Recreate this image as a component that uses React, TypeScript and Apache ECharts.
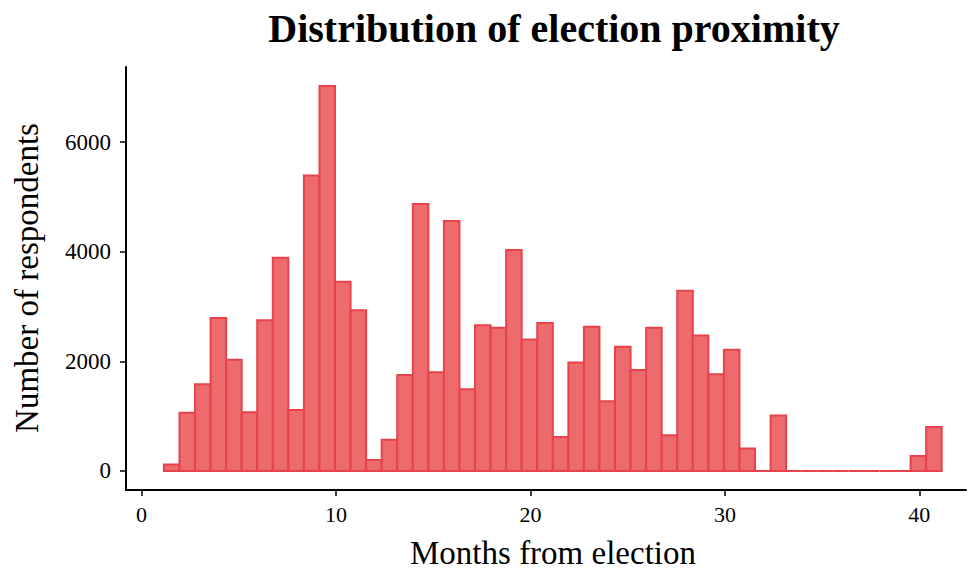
import React, { useEffect, useRef } from "react";
import * as echarts from "echarts";

const binStart = 1.15;
const binWidth = 0.8;
const counts = [
  120, 1060, 1580, 2790, 2030, 1070, 2750, 3890, 1110, 5390,
  7020, 3450, 2930, 200, 570, 1750, 4870, 1800, 4560, 1490,
  2660, 2610, 4030, 2400, 2700, 620, 1980, 2630, 1270, 2265,
  1840, 2610, 650, 3285, 2470, 1765, 2210, 410, 0, 1010,
  0, 0, 0, 0, 0, 0, 0, 0, 275, 802,
];
const xTicks = [0, 10, 20, 30, 40];
const yTicks = [0, 2000, 4000, 6000];

const titleText = "Distribution of election proximity";
const xTitle = "Months from election";
const yTitle = "Number of respondents";

const FONT = "'Liberation Serif', 'DejaVu Serif', serif";

export default function App() {
  const ref = useRef<HTMLDivElement>(null);
  useEffect(() => {
    if (!ref.current) return;
    const chart = echarts.init(ref.current, undefined, { renderer: "svg" });
    const data = counts.map((c, i) => [binStart + i * binWidth, binStart + (i + 1) * binWidth, c]);
    chart.setOption({
      animation: false,
      grid: { left: 126, right: 3, top: 67, bottom: 81, containLabel: false },
      xAxis: {
        type: "value",
        min: -0.8,
        max: 42.4,
        splitLine: { show: false },
        axisLine: { show: true, onZero: false, lineStyle: { color: "#000", width: 2 } },
        axisTick: { show: true, length: 6, lineStyle: { color: "#000", width: 1.5 }, customValues: xTicks },
        axisLabel: {
          customValues: xTicks,
          formatter: (v: number) => String(v),
          color: "#000",
          fontFamily: FONT,
          fontSize: 22,
          margin: 13,
        },
      },
      yAxis: {
        type: "value",
        min: -347,
        max: 7368,
        splitLine: { show: false },
        axisLine: { show: true, onZero: false, lineStyle: { color: "#000", width: 2 } },
        axisTick: { show: true, length: 6, lineStyle: { color: "#000", width: 1.5 }, customValues: yTicks },
        axisLabel: {
          customValues: yTicks,
          formatter: (v: number) => String(v),
          color: "#000",
          fontFamily: FONT,
          fontSize: 23,
          margin: 15,
        },
      },
      series: [
        {
          type: "custom",
          data,
          encode: { x: [0, 1], y: 2 },
          renderItem: (params: any, api: any) => {
            const p0 = api.coord([api.value(0), api.value(2)]);
            const p1 = api.coord([api.value(1), 0]);
            return {
              type: "rect",
              shape: { x: p0[0], y: p0[1], width: p1[0] - p0[0], height: p1[1] - p0[1] },
              style: { fill: "#ED6A6D", stroke: "#E6434A", lineWidth: 2 },
            };
          },
        },
      ],
      graphic: [
        {
          type: "text",
          x: 554,
          y: 28,
          style: {
            text: titleText,
            fontFamily: FONT,
            fontWeight: "bold",
            fontSize: 40,
            fill: "#000",
            textAlign: "center",
            textVerticalAlign: "middle",
          },
        },
        {
          type: "text",
          x: 553,
          y: 553,
          style: {
            text: xTitle,
            fontFamily: FONT,
            fontSize: 33,
            fill: "#000",
            textAlign: "center",
            textVerticalAlign: "middle",
          },
        },
        {
          type: "text",
          x: 27,
          y: 278,
          rotation: Math.PI / 2,
          style: {
            text: yTitle,
            fontFamily: FONT,
            fontSize: 33,
            fill: "#000",
            textAlign: "center",
            textVerticalAlign: "middle",
          },
        },
      ],
    });
    return () => chart.dispose();
  }, []);
  return <div ref={ref} style={{ width: 969, height: 571, position: "absolute", left: 0, top: 0 }} />;
}
